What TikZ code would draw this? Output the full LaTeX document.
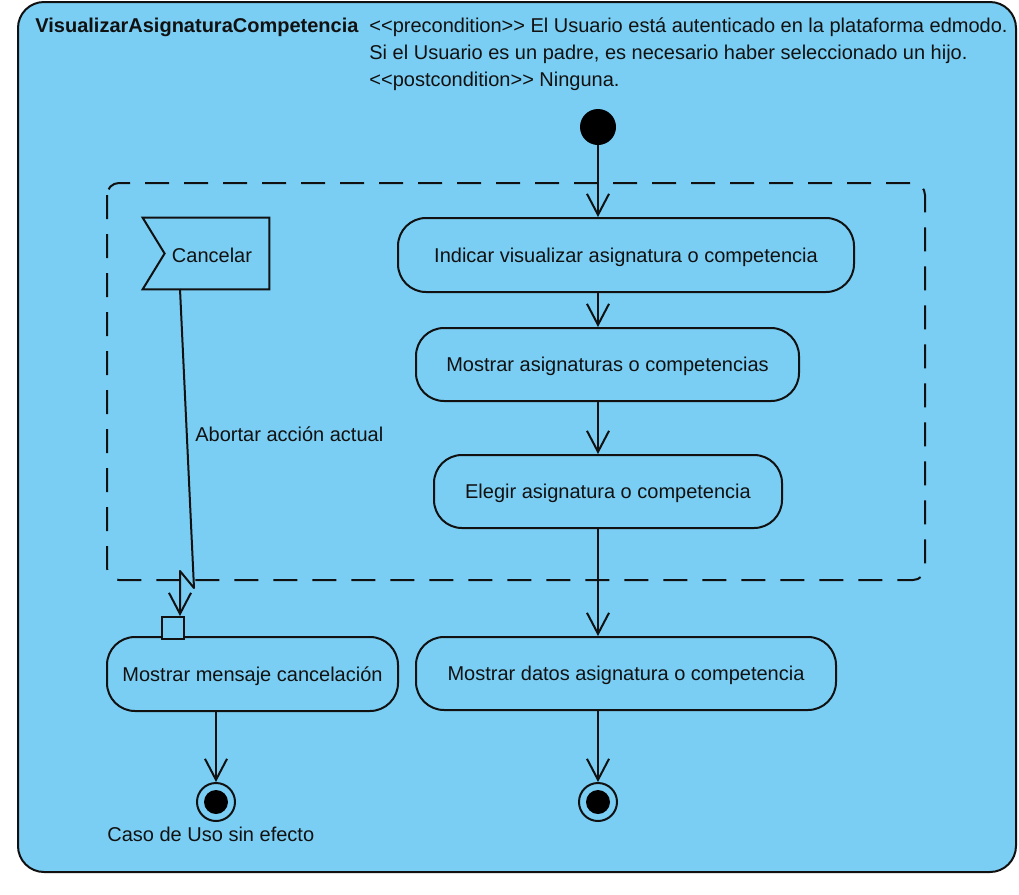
\documentclass[tikz,border=0pt]{standalone}
\usepackage{fontspec}
\setmainfont{Liberation Sans}
\usetikzlibrary{arrows.meta,positioning,calc}
\definecolor{diagbg}{HTML}{7ACEF4}
\definecolor{ink}{HTML}{111111}
\tikzset{
  lbl/.style={font=\fontsize{10}{12}\selectfont, text=ink, inner sep=0pt},
  act/.style={draw=ink, line width=1pt, rounded corners=14pt, fill=diagbg,
              font=\fontsize{10}{12}\selectfont, text=ink, align=center,
              text height=7.2pt, text depth=0pt},
  flow/.style={draw=ink, line width=1pt, line join=round, -{Straight Barb[length=10.5pt,width=11pt]}},
  startnode/.style={circle, fill=black, minimum size=18pt, inner sep=0pt},
  endnode/.style={circle, draw=ink, line width=1pt, minimum size=19pt, inner sep=0pt},
  pinbox/.style={draw=ink, line width=1pt, fill=diagbg, minimum size=11pt, inner sep=0pt},
}
\begin{document}
\begin{tikzpicture}[x=0.5pt, y=-0.5pt]
\useasboundingbox (0,0) rectangle (1019,895);

% activity frame
\draw[draw=ink, line width=1pt, fill=diagbg, rounded corners=13pt] (18,2) rectangle (1016,872);
\node[lbl, font=\fontsize{10}{12}\selectfont\bfseries, anchor=base west] (title) at (35,32) {VisualizarAsignaturaCompetencia};
\node[lbl, anchor=base west] (pre1) at (369,32) {<{}<precondition>{}> El Usuario está autenticado en la plataforma edmodo.};
\node[lbl, anchor=base west] (pre2) at (369,59) {Si el Usuario es un padre, es necesario haber seleccionado un hijo.};
\node[lbl, anchor=base west] (pre3) at (369,86) {<{}<postcondition>{}> Ninguna.};

% interruptible region
\draw[draw=ink, line width=1pt, dash pattern=on 12pt off 7.5pt, rounded corners=6pt] (107,183) rectangle (925,580);

% nodes
\node[startnode] (init) at (598,127) {};
\node[act, minimum width=228pt, minimum height=37pt] (a1) at (626,255) {Indicar visualizar asignatura o competencia};
\node[act, minimum width=191.5pt, minimum height=36.5pt] (a2) at (607.5,364.5) {Mostrar asignaturas o competencias};
\node[act, minimum width=174pt, minimum height=36.5pt] (a3) at (608,491.5) {Elegir asignatura o competencia};
\node[act, minimum width=210pt, minimum height=36.5pt] (a4) at (626,673.5) {Mostrar datos asignatura o competencia};
\node[act, minimum width=145.5pt, minimum height=37pt] (a5) at (252.5,674) {Mostrar mensaje cancelación};
\node[pinbox] (pin) at (173,628) {};

\node[endnode] (fin1) at (216,802) {};
\fill[black] (fin1.center) circle (6pt);
\node[endnode] (fin2) at (598,802) {};
\fill[black] (fin2.center) circle (6pt);
\node[lbl, anchor=base west] (fin1lbl) at (107,841) {Caso de Uso sin efecto};

% accept event "Cancelar"
\node[lbl, minimum width=63pt, minimum height=35.5pt, text height=7.2pt, text depth=0pt] (cancel) at (206,253.5) {\hspace*{6pt}\raisebox{-0.9pt}{Cancelar}};
\draw[draw=ink, line width=1pt] (cancel.north west) -- (cancel.north east) -- (cancel.south east)
  -- (cancel.south west) -- ($(cancel.west)+(22,0)$) -- cycle;

% control flows
\draw[flow] (init) -- (init |- a1.north);
\draw[flow] (init |- a1.south) -- (init |- a2.north);
\draw[flow] (init |- a2.south) -- (init |- a3.north);
\draw[flow] (init |- a3.south) -- (init |- a4.north);
\draw[flow] (init |- a4.south) -- (fin2);
\draw[flow] (fin1 |- a5.south) -- (fin1);

% interrupting edge
\coordinate (cs) at (180,289);
\coordinate (zA) at (194,588);
\coordinate (zB) at (180,571);
\draw[flow] (cs) -- (zA) -- (zB) -- (zB |- pin.north);
\node[lbl, anchor=west] (abort) at (195,434) {Abortar acción actual};
\end{tikzpicture}
\end{document}
